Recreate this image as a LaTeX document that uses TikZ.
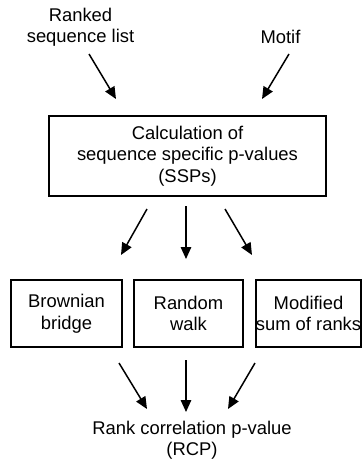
\documentclass[tikz,border=0pt]{standalone}
\usepackage{fontspec}
\setmainfont{Liberation Sans}
\usetikzlibrary{arrows.meta}
\begin{document}
\begin{tikzpicture}[x=1pt,y=-1pt,
  txt/.style={align=center,inner sep=0pt,font=\fontsize{18.4}{21.5}\selectfont},
  box/.style={txt,draw,line width=1.8pt,inner sep=0pt},
  arr/.style={line width=1.5pt,-{Triangle[length=12pt,width=10.5pt]}}]
\useasboundingbox (0,0) rectangle (362,463);
\node[txt] (rsl) at (80.5,27) {Ranked\\sequence list};
\node[txt] (motif) at (280.5,37) {Motif};
\node[box,minimum width=277pt,minimum height=80pt] (ssp) at (187.5,156) {Calculation of\\sequence specific p-values\\(SSPs)};
\node[box,minimum width=111pt,minimum height=67pt] (bb) at (66.5,313.5) {Brownian\\bridge};
\node[box,minimum width=109pt,minimum height=67pt] (rw) at (188.5,313.5) {Random\\walk};
\node[box,minimum width=105pt,minimum height=67pt] (msr) at (308.5,313.5) {Modified\\sum of ranks};
\node[txt] (rcp) at (192,440) {Rank correlation p-value\\(RCP)};
% connector ends
\coordinate (a1s) at (89,54);  \coordinate (a1e) at (116,99);
\coordinate (a2s) at (289,54); \coordinate (a2e) at (262,99);
\coordinate (b1s) at (147,209); \coordinate (b1e) at (121,255);
\coordinate (b2s) at (186,206); \coordinate (b2e) at (186,259);
\coordinate (b3s) at (225,209); \coordinate (b3e) at (252,255);
\coordinate (c1s) at (119,363); \coordinate (c1e) at (147,409);
\coordinate (c2s) at (186,360); \coordinate (c2e) at (186,412);
\coordinate (c3s) at (255,363); \coordinate (c3e) at (228,409);
\draw[arr] (a1s) -- (a1e);
\draw[arr] (a2s) -- (a2e);
\draw[arr] (b1s) -- (b1e);
\draw[arr] (b2s) -- (b2e);
\draw[arr] (b3s) -- (b3e);
\draw[arr] (c1s) -- (c1e);
\draw[arr] (c2s) -- (c2e);
\draw[arr] (c3s) -- (c3e);
\end{tikzpicture}
\end{document}
